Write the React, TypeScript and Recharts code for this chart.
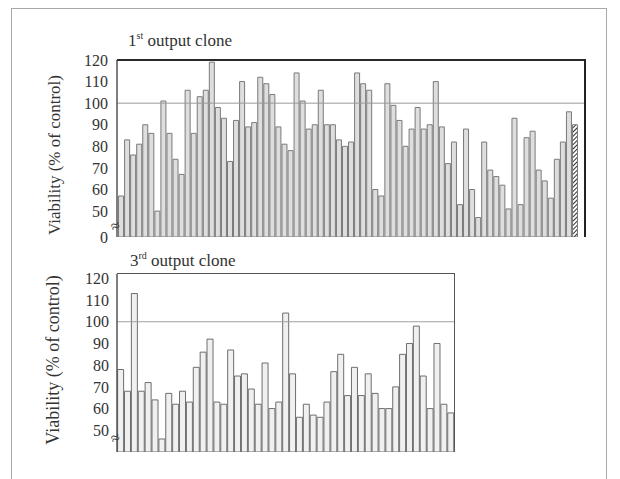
import React from "react";
import { BarChart, Bar, XAxis, YAxis, ReferenceLine, Cell } from "recharts";

// 1st output clone — viability (% of control), one value per clone
const clone1Viability = [
  57, 83, 76, 81, 90, 86, 50, 101, 86, 74,
  67, 106, 86, 103, 106, 119, 98, 93, 73, 92,
  110, 89, 91, 112, 109, 104, 89, 81, 78, 114,
  101, 88, 90, 106, 90, 90, 83, 80, 82, 114,
  109, 106, 60, 57, 109, 99, 92, 80, 88, 98,
  88, 90, 110, 89, 72, 82, 53, 88, 60, 47,
  82, 69, 66, 62, 51, 93, 53, 84, 87, 69,
  64, 56, 74, 82, 96, 90,
];

// 3rd output clone — viability (% of control)
const clone3Viability = [
  78, 68, 113, 68, 72, 64, 46, 67, 62, 68,
  63, 79, 86, 92, 63, 62, 87, 75, 76, 69,
  62, 81, 60, 63, 104, 76, 56, 62, 57, 56,
  63, 77, 85, 66, 79, 66, 76, 67, 60, 60,
  70, 85, 90, 98, 75, 60, 90, 62, 58,
];

const clone1Ids = clone1Viability.map((_, i) => `1-${i + 1}`);
const clone3Ids = clone3Viability.map((_, i) => `3-${i + 1}`);

const topTicks = [38, 50, 60, 70, 80, 90, 100, 110, 120];
const bottomTicks = [50, 60, 70, 80, 90, 100, 110, 120];

const data1 = clone1Ids.map((clone, i) => ({ clone, viability: clone1Viability[i] }));
const data3 = clone3Ids.map((clone, i) => ({ clone, viability: clone3Viability[i] }));

const FONT = "'Liberation Serif', 'Times New Roman', serif";
const tickStyle = { fontFamily: FONT, fontSize: 16, fill: "#333" };

// chart geometry (plot areas)
const TOP = { w: 620, h: 262, m: { top: 60, right: 36, bottom: 25, left: 67 }, yw: 50 };
const BOT = { y: 262, w: 620, h: 200, m: { top: 12, right: 166, bottom: 10, left: 67 }, yw: 50 };

function YTitle({ cx, cy, size }: { cx: number; cy: number; size: number }) {
  return (
    <div
      style={{
        position: "absolute",
        left: cx - 110,
        top: cy - 11,
        width: 220,
        height: 22,
        lineHeight: "22px",
        textAlign: "center",
        transform: "rotate(-90deg)",
        fontFamily: FONT,
        fontSize: size,
        color: "#333",
        whiteSpace: "nowrap",
      }}
    >
      Viability (% of control)
    </div>
  );
}

function Title({ left, top, num, sup }: { left: number; top: number; num: string; sup: string }) {
  return (
    <div
      style={{
        position: "absolute",
        left,
        top,
        fontFamily: FONT,
        fontSize: 17,
        color: "#333",
        whiteSpace: "nowrap",
        lineHeight: "20px",
      }}
    >
      {num}
      <span style={{ fontSize: 10, position: "relative", top: -7 }}>{sup}</span> output clone
    </div>
  );
}

function Frame({
  left,
  top,
  width,
  height,
  topStroke,
  rightStroke,
}: {
  left: number;
  top: number;
  width: number;
  height: number;
  topStroke: string;
  rightStroke: string;
}) {
  return (
    <div
      style={{
        position: "absolute",
        left,
        top,
        width,
        height,
        borderTop: topStroke,
        borderRight: rightStroke,
        boxSizing: "border-box",
        pointerEvents: "none",
      }}
    />
  );
}

export default function App() {
  const t1Left = TOP.m.left + TOP.yw;
  const t1Width = TOP.w - t1Left - TOP.m.right;
  const t1Height = TOP.h - TOP.m.top - TOP.m.bottom;
  const b1Left = BOT.m.left + BOT.yw;
  const b1Width = BOT.w - b1Left - BOT.m.right;
  const b1Height = BOT.h - BOT.m.top - BOT.m.bottom;
  return (
    <div
      style={{
        position: "absolute",
        left: 0,
        top: 0,
        width: 620,
        height: 479,
        background: "#fff",
        overflow: "hidden",
      }}
    >
      <div
        style={{
          position: "absolute",
          left: 11,
          top: 8,
          width: 594,
          height: 490,
          border: "1.5px solid #a8a8a8",
        }}
      />

      <Title left={128} top={31} num="1" sup="st" />
      <YTitle cx={55} cy={155} size={17} />

      <div style={{ position: "absolute", left: 0, top: 0 }}>
        <BarChart
          width={TOP.w}
          height={TOP.h}
          data={data1}
          margin={TOP.m}
          barCategoryGap="9%"
        >
          <defs>
            <pattern
              id="hatch1"
              width="3"
              height="3"
              patternUnits="userSpaceOnUse"
              patternTransform="rotate(45)"
            >
              <rect width="3" height="3" fill="#fff" />
              <line x1="0" y1="0" x2="0" y2="3" stroke="#333" strokeWidth="2" />
            </pattern>
          </defs>
          <XAxis
            dataKey="clone"
            tick={false}
            tickLine={false}
            height={0}
            padding={{ left: 1, right: 6 }}
            axisLine={{ stroke: "#1e1e1e", strokeWidth: 3 }}
          />
          <YAxis
            type="number"
            domain={[38, 120]}
            ticks={topTicks}
            interval={0}
            allowDataOverflow
            width={TOP.yw}
            tickSize={0}
            tickMargin={9}
            tickLine={false}
            tick={tickStyle}
            tickFormatter={(v: number) => (v === 38 ? "0" : String(v))}
            axisLine={{ stroke: "#555", strokeWidth: 1.5 }}
          />
          <ReferenceLine y={100} stroke="#9a9a9a" strokeWidth={1} />
          <Bar dataKey="viability" stroke="#7a7a7a" strokeWidth={1} isAnimationActive={false}>
            {data1.map((d, i) => (
              <Cell key={d.clone} fill={i === data1.length - 1 ? "url(#hatch1)" : "#dedede"} />
            ))}
          </Bar>
        </BarChart>
      </div>
      <Frame
        left={t1Left}
        top={TOP.m.top - 1}
        width={t1Width + 1.5}
        height={t1Height + 1}
        topStroke="2px solid #2a2a2a"
        rightStroke="2.5px solid #222"
      />
      <span
        style={{
          position: "absolute",
          left: 111,
          top: 217,
          fontFamily: FONT,
          fontSize: 16,
          color: "#333",
          transform: "rotate(-20deg)",
        }}
      >
        ≈
      </span>

      <Title left={130} top={251} num="3" sup="rd" />
      <YTitle cx={53} cy={360} size={18} />

      <div style={{ position: "absolute", left: 0, top: BOT.y }}>
        <BarChart
          width={BOT.w}
          height={BOT.h}
          data={data3}
          margin={BOT.m}
          barCategoryGap="9%"
        >
          <XAxis
            dataKey="clone"
            tick={false}
            tickLine={false}
            height={0}
            axisLine={{ stroke: "#333", strokeWidth: 2 }}
          />
          <YAxis
            type="number"
            domain={[40, 122]}
            ticks={bottomTicks}
            interval={0}
            allowDataOverflow
            width={BOT.yw}
            tickSize={0}
            tickMargin={8}
            tickLine={false}
            tick={tickStyle}
            axisLine={{ stroke: "#555", strokeWidth: 1.5 }}
          />
          <ReferenceLine y={100} stroke="#a0a0a0" strokeWidth={1} />
          <Bar
            dataKey="viability"
            fill="#f0f0f0"
            stroke="#6e6e6e"
            strokeWidth={1}
            isAnimationActive={false}
          />
        </BarChart>
      </div>
      <Frame
        left={b1Left}
        top={BOT.y + BOT.m.top - 0.75}
        width={b1Width + 0.75}
        height={b1Height + 0.75}
        topStroke="1.5px solid #555"
        rightStroke="1.5px solid #555"
      />
      <span
        style={{
          position: "absolute",
          left: 111,
          top: 429,
          fontFamily: FONT,
          fontSize: 16,
          color: "#333",
          transform: "rotate(-20deg)",
        }}
      >
        ≈
      </span>
    </div>
  );
}
